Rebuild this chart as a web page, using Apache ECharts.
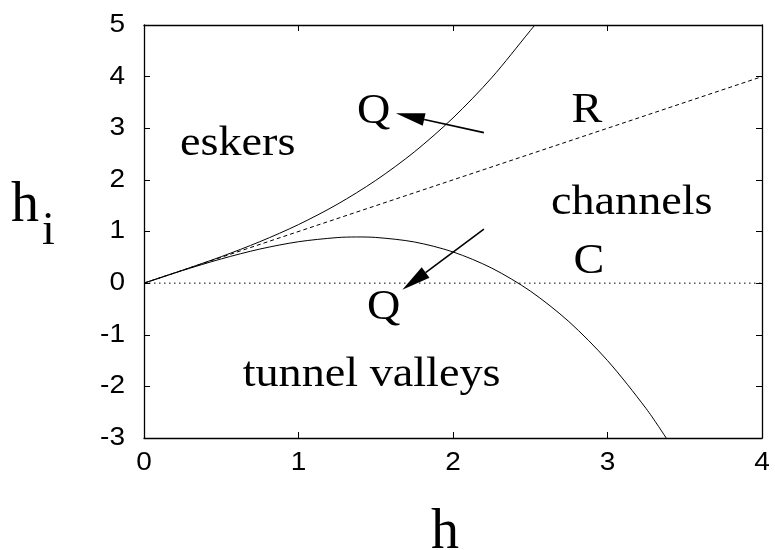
<!DOCTYPE html>
<html>
<head>
<meta charset="utf-8">
<script src="https://cdn.jsdelivr.net/npm/echarts@6/dist/echarts.min.js"></script>
<style>
  html, body { margin: 0; padding: 0; background: #ffffff; }
  #chart { width: 775px; height: 550px; }
</style>
</head>
<body>
<div id="chart"></div>
<script>
// Upper Q boundary (esker side), sampled in h
const upperH  = [0, 0.25, 0.5, 0.75, 1.0, 1.25, 1.5, 1.75, 2.0, 2.25, 2.5, 2.53];
const upperHi = [0, 0.251, 0.513, 0.803, 1.134, 1.525, 1.99, 2.542, 3.20, 3.977, 4.89, 5.0];

// Lower Q boundary (tunnel valley side)
const lowerH  = [0, 0.25, 0.5, 0.75, 1.0, 1.25, 1.375, 1.5, 1.75, 2.0, 2.25, 2.5, 2.75, 3.0, 3.25, 3.38];
const lowerHi = [0, 0.245, 0.469, 0.660, 0.802, 0.882, 0.894, 0.885, 0.797, 0.604, 0.292, -0.153, -0.745, -1.50, -2.43, -3.0];

// R line (h_i = h) and C line (h_i = 0)
const rH  = [0, 4];
const rHi = [0, 4];
const cH  = [0, 4];
const cHi = [0, 0];

// Arrows: [tail h, tail h_i, tip h, tip h_i]
const arrows = [
  [2.20, 2.915, 1.63, 3.29],
  [2.20, 1.045, 1.672, -0.13]
];

// Region and curve labels: [h, h_i, text]
const labels = [
  [0.606, 2.70, 'eskers'],
  [1.473, -1.78, 'tunnel valleys'],
  [3.157, 1.55, 'channels'],
  [2.879, 0.41, 'C'],
  [2.866, 3.34, 'R'],
  [1.486, 3.32, 'Q'],
  [1.551, -0.49, 'Q']
];

const xTicks = [0, 1, 2, 3, 4];
const yTicks = [-3, -2, -1, 0, 1, 2, 3, 4, 5];

const pairs = (xs, ys) => xs.map((x, i) => [x, ys[i]]);

const serif = '"Liberation Serif", "Times New Roman", serif';
const sans = '"Liberation Sans", Arial, sans-serif';
const ink = '#000000';
const tickFont = '25px ' + sans;

const chart = echarts.init(document.getElementById('chart'), null, { renderer: 'canvas' });

const axisCommon = {
  type: 'value',
  interval: 1,
  axisLine: { show: true, onZero: false, lineStyle: { color: ink, width: 1.3 } },
  axisTick: { show: true, inside: true, length: 6, lineStyle: { color: ink, width: 1 } },
  axisLabel: { show: false },
  splitLine: { show: false }
};

const xMin = xTicks[0], xMax = xTicks[xTicks.length - 1];
const yMin = yTicks[0], yMax = yTicks[yTicks.length - 1];

const option = {
  animation: false,
  backgroundColor: '#ffffff',
  grid: { left: 144, top: 25, width: 618, height: 413, containLabel: false },
  xAxis: [
    Object.assign({}, axisCommon, { min: xMin, max: xMax, position: 'bottom' }),
    Object.assign({}, axisCommon, { min: xMin, max: xMax, position: 'top' })
  ],
  yAxis: [
    Object.assign({}, axisCommon, { min: yMin, max: yMax, position: 'left' }),
    Object.assign({}, axisCommon, { min: yMin, max: yMax, position: 'right' })
  ],
  graphic: [
    { type: 'text', left: 11, top: 178,
      style: { text: 'h', font: '56px ' + serif, fill: ink } },
    { type: 'text', left: 42, top: 209,
      style: { text: 'i', font: '46px ' + serif, fill: ink } },
    { type: 'text', left: 431, top: 505,
      style: { text: 'h', font: '56px ' + serif, fill: ink } }
  ],
  series: [
    {
      type: 'line', name: 'R', data: pairs(rH, rHi), showSymbol: false, silent: true,
      lineStyle: { color: ink, width: 1, type: [4, 3] }
    },
    {
      type: 'line', name: 'C', data: pairs(cH, cHi), showSymbol: false, silent: true,
      lineStyle: { color: ink, width: 1, type: [1.5, 3.5] }
    },
    {
      type: 'line', name: 'Q upper', data: pairs(upperH, upperHi), showSymbol: false,
      smooth: 0.3, silent: true, lineStyle: { color: ink, width: 1 }
    },
    {
      type: 'line', name: 'Q lower', data: pairs(lowerH, lowerHi), showSymbol: false,
      smooth: 0.3, silent: true, lineStyle: { color: ink, width: 1 }
    },
    {
      type: 'custom', name: 'arrows', silent: true,
      data: arrows,
      encode: { x: [0, 2], y: [1, 3] },
      renderItem: function (params, api) {
        const p1 = api.coord([api.value(0), api.value(1)]);
        const p2 = api.coord([api.value(2), api.value(3)]);
        const dx = p2[0] - p1[0], dy = p2[1] - p1[1];
        const len = Math.sqrt(dx * dx + dy * dy);
        const ux = dx / len, uy = dy / len;
        const headLen = 29, halfW = 6.5;
        const bx = p2[0] - ux * headLen, by = p2[1] - uy * headLen;
        return {
          type: 'group',
          children: [
            { type: 'line', shape: { x1: p1[0], y1: p1[1], x2: bx, y2: by },
              style: { stroke: ink, lineWidth: 1.6 } },
            { type: 'polygon',
              shape: { points: [p2, [bx - uy * halfW, by + ux * halfW], [bx + uy * halfW, by - ux * halfW]] },
              style: { fill: ink } }
          ]
        };
      }
    },
    {
      type: 'custom', name: 'labels', silent: true,
      data: labels,
      encode: { x: 0, y: 1 },
      renderItem: function (params, api) {
        const p = api.coord([api.value(0), api.value(1)]);
        const txt = labels[params.dataIndex][2];
        return {
          type: 'text',
          x: p[0], y: p[1],
          scaleX: 1.1,
          style: {
            text: txt, x: 0, y: 0,
            font: '42px ' + serif, fill: ink,
            align: 'center', verticalAlign: 'middle'
          }
        };
      }
    },
    {
      // h tick labels under the bottom axis
      type: 'custom', name: 'h ticks', silent: true, clip: false,
      data: xTicks.map(function (v) { return [v, yMin]; }),
      encode: { x: 0, y: 1 },
      renderItem: function (params, api) {
        const v = api.value(0);
        const p = api.coord([v, api.value(1)]);
        return {
          type: 'text', x: p[0], y: p[1] + 13, scaleX: 1.12,
          style: { text: String(v), x: 0, y: 0, font: tickFont, fill: ink, align: 'center', verticalAlign: 'top' }
        };
      }
    },
    {
      // h_i tick labels left of the left axis
      type: 'custom', name: 'hi ticks', silent: true, clip: false,
      data: yTicks.map(function (v) { return [xMin, v]; }),
      encode: { x: 0, y: 1 },
      renderItem: function (params, api) {
        const v = api.value(1);
        const p = api.coord([api.value(0), v]);
        return {
          type: 'text', x: p[0] - 19, y: p[1], scaleX: 1.12,
          style: { text: String(v), x: 0, y: 0, font: tickFont, fill: ink, align: 'right', verticalAlign: 'middle' }
        };
      }
    }
  ]
};

chart.setOption(option);
</script>
</body>
</html>
